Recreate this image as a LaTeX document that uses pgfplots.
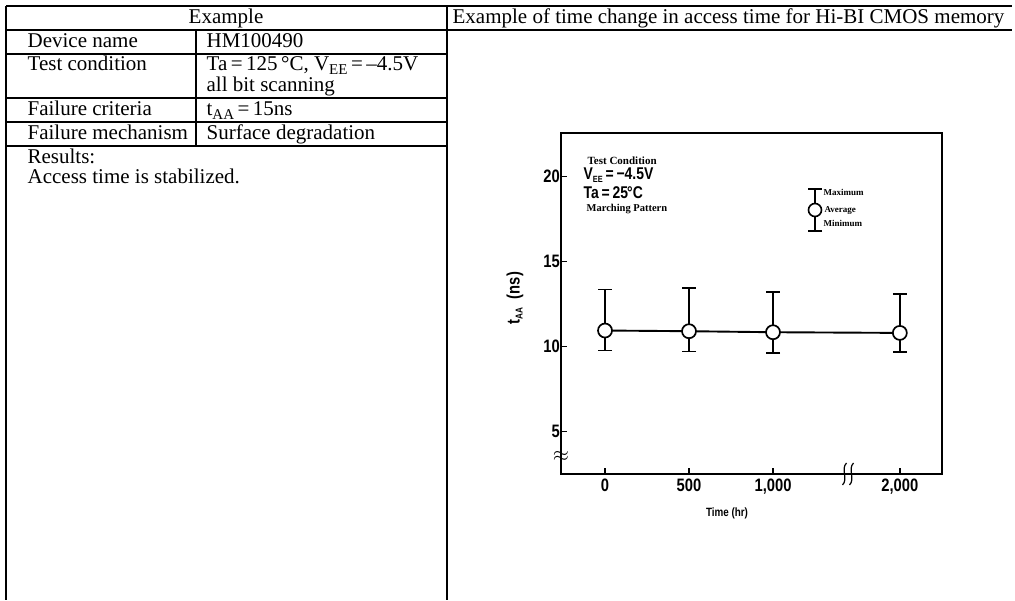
\documentclass[border=0pt]{standalone}
\usepackage{fontspec}
\setmainfont{Liberation Serif}
\newfontfamily\chartfont[FakeStretch=0.82]{Liberation Sans}
\usepackage{pgfplots}
\pgfplotsset{compat=1.18}
\newcommand\tabfont{\fontsize{21}{21}\selectfont}
\begin{document}
\begin{tikzpicture}[x=1pt,y=1pt]
\path[use as bounding box, fill=white] (0,0) rectangle (1015,600);
% table, drawn with y measured downward from the top
\begin{scope}[shift={(0,600)}, yscale=-1, line width=1.3pt]
\draw (6,6) -- (1012,6);
\draw (6,30) -- (1012,30);
\draw (6,6) -- (6,600);
\draw (447,6) -- (447,600);
\draw (6,54) -- (447,54);
\draw (6,98) -- (447,98);
\draw (6,122) -- (447,122);
\draw (6,146) -- (447,146);
\draw (196,30) -- (196,146);
\tikzset{every node/.style={inner sep=0pt, font=\tabfont}}
\node[anchor=base] at (226,24) {Example};
\node[anchor=base west] at (452,24) {Example of time change in access time for Hi-BI CMOS memory};
\node[anchor=base west] at (27,48) {Device name};
\node[anchor=base west] at (206,48) {HM100490};
\node[anchor=base west] at (27,71) {Test condition};
\node[anchor=base west] at (206,71) {Ta\,=\,125\,°C, V\raisebox{-0.35ex}{\fontsize{15}{15}\selectfont EE}\,=\,–4.5V};
\node[anchor=base west] at (206,92) {all bit scanning};
\node[anchor=base west] at (27,116) {Failure criteria};
\node[anchor=base west] at (206,116) {t\raisebox{-0.35ex}{\fontsize{15}{15}\selectfont AA}\,=\,15ns};
\node[anchor=base west] at (27,140) {Failure mechanism};
\node[anchor=base west] at (206,140) {Surface degradation};
\node[anchor=base west] at (27,164) {Results:};
\node[anchor=base west] at (27,184) {Access time is stabilized.};
% texts inside the chart
\node[anchor=base west, font=\bfseries\fontsize{11}{11}\selectfont] at (587,165) {Test Condition};
\node[anchor=base west, font=\chartfont\bfseries\fontsize{17}{17}\selectfont] at (583,180) {V\raisebox{-0.25ex}{\fontsize{9}{9}\selectfont EE}\,=\,−4.5V};
\node[anchor=base west, font=\chartfont\bfseries\fontsize{17}{17}\selectfont] at (583,199) {Ta\,=\,25\kern-1pt°C};
\node[anchor=base west, font=\bfseries\fontsize{10.5}{10.5}\selectfont] at (586,212) {Marching Pattern};
\node[anchor=base west, font=\bfseries\fontsize{9}{9}\selectfont] at (823,196) {Maximum};
\node[anchor=base west, font=\bfseries\fontsize{9}{9}\selectfont] at (824,213) {Average};
\node[anchor=base west, font=\bfseries\fontsize{9}{9}\selectfont] at (823,227) {Minimum};
\node[rotate=90, font=\chartfont\bfseries\fontsize{18}{18}\selectfont] at (515,298) {t\raisebox{-0.3ex}{\fontsize{10}{10}\selectfont AA}\ \ (ns)};
\node[font=\chartfont\bfseries\fontsize{12}{12}\selectfont] at (727,513) {Time (hr)};
% axis break marks
\foreach \dx in {-3.5,3.5}
  \draw[line width=1.2pt] (848+\dx-2,485) .. controls (848+\dx+4,479) and (848+\dx-4,469) .. (848+\dx+2,463);
\end{scope}
\begin{axis}[at={(561pt,126pt)}, anchor=south west, scale only axis,
  width=381pt, height=341pt,
  xmin=-0.524, xmax=4.012, ymin=2.5, ymax=22.56,
  axis line style={line width=1.7pt},
  xtick={0,1,2,3.51}, xticklabels={0,500,{1,000},{2,000}},
  ytick={5,10,15,20},
  tick style={line width=1.4pt, black}, major tick length=6pt, tick align=inside,
  xtick pos=bottom, ytick pos=left,
  /pgf/number format/assume math mode=true,
  ticklabel style={font=\chartfont\bfseries\fontsize{18}{18}\selectfont},
  yticklabel style={inner sep=1pt},
  xticklabel style={inner sep=1pt, yshift=-4pt},
  clip=false]
% error bars: maximum / minimum
\addplot[draw=none, black, error bars/.cd, y dir=both, y explicit,
  error mark options={rotate=90, mark size=7pt, line width=1.6pt},
  error bar style={line width=1.4pt}]
  coordinates {(0,10.94) += (0,2.41) -= (0,1.18)
               (1,10.90) += (0,2.55) -= (0,1.20)
               (2,10.84) += (0,2.36) -= (0,1.21)
               (3.51,10.80) += (0,2.30) -= (0,1.13)};
% average
\addplot[black, line width=1.9pt, mark=*, mark size=7pt,
  mark options={fill=white, draw=black, line width=1.7pt}]
  coordinates {(0,10.94) (1,10.90) (2,10.84) (3.51,10.80)};
% key glyph
\addplot[black, draw=none, error bars/.cd, y dir=both, y explicit,
  error mark options={rotate=90, mark size=7pt, line width=1.6pt},
  error bar style={line width=1.4pt}]
  coordinates {(2.5,18.03) += (0,1.23) -= (0,1.24)};
\addplot[black, only marks, mark=*, mark size=6.5pt, mark options={fill=white, draw=black, line width=1.6pt}]
  coordinates {(2.5,18.03)};
\node[font=\fontsize{22}{22}\selectfont] at (axis cs:-0.524,3.55) {$\approx$};
\end{axis}
\end{tikzpicture}
\end{document}
